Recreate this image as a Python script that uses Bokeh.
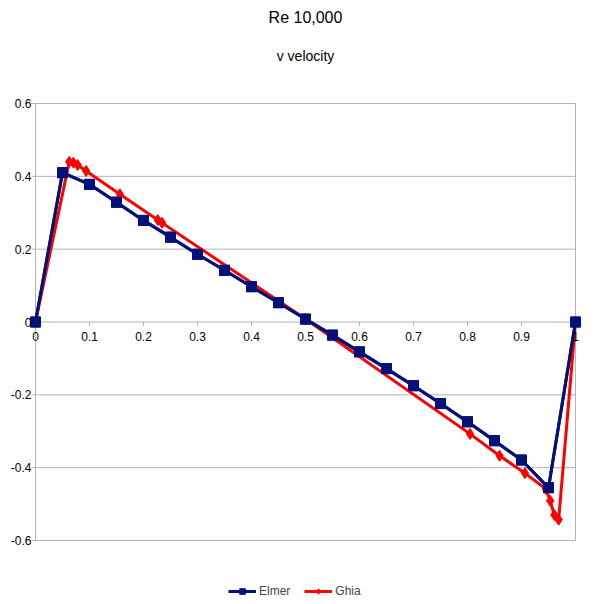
from bokeh.plotting import figure
from bokeh.models import Range1d, Legend, LegendItem, FixedTicker, Title, Label
from bokeh.embed import file_html
from bokeh.resources import INLINE

# Elmer results
elmer_x = [0.0, 0.05, 0.1, 0.15, 0.2, 0.25, 0.3, 0.35, 0.4, 0.45, 0.5,
           0.55, 0.6, 0.65, 0.7, 0.75, 0.8, 0.85, 0.9, 0.95, 1.0]
elmer_v = [0.0, 0.41, 0.378, 0.329, 0.279, 0.233, 0.186, 0.142, 0.097, 0.053, 0.008,
           -0.036, -0.082, -0.128, -0.175, -0.224, -0.274, -0.326, -0.379, -0.455, 0.0]

# Ghia et al. reference
ghia_x = [1.0, 0.9688, 0.9609, 0.9531, 0.9453, 0.9063, 0.8594, 0.8047, 0.5,
          0.2344, 0.2266, 0.1563, 0.0938, 0.0781, 0.0703, 0.0625, 0.0]
ghia_v = [0.0, -0.543, -0.5299, -0.491, -0.4586, -0.415, -0.3674, -0.3072, 0.0083,
          0.2722, 0.28, 0.3507, 0.4149, 0.4312, 0.4373, 0.4398, 0.0]

x_ticks = [0, 0.1, 0.2, 0.3, 0.4, 0.5, 0.6, 0.7, 0.8, 0.9, 1]
x_labels = ["0", "0.1", "0.2", "0.3", "0.4", "0.5", "0.6", "0.7", "0.8", "0.9", "1"]
y_ticks = [-0.6, -0.4, -0.2, 0, 0.2, 0.4, 0.6]
y_labels = ["-0.6", "-0.4", "-0.2", "0", "0.2", "0.4", "0.6"]

FONT = "Liberation Sans"
GRID = "#b3b3b3"
NAVY = "#00127a"
RED = "#ff0000"

PXX = 540.0     # pixels per x unit
PXY = 364.2     # pixels per y unit
XPAD = 6 / PXX
TOP_EXTRA = 25 / PXY
BOTTOM_EXTRA = 61 / PXY
TICK_X = 4 / PXX
TICK_Y = 4 / PXY

ymin, ymax = y_ticks[0], y_ticks[-1]

p = figure(frame_width=552, frame_height=523, output_backend="svg", toolbar_location=None,
           x_range=Range1d(-XPAD, 1 + XPAD),
           y_range=Range1d(ymin - BOTTOM_EXTRA, ymax + TOP_EXTRA),
           x_axis_location=None,
           min_border_left=29, min_border_right=1, min_border_top=0, min_border_bottom=0)

p.title = None
p.add_layout(Title(text="v velocity", align="center", text_font=FONT,
                   text_font_size="14px", text_font_style="normal",
                   text_color="#000000", standoff=29), "above")
p.add_layout(Title(text="Re 10,000", align="center", text_font=FONT,
                   text_font_size="16px", text_font_style="normal",
                   text_color="#000000", standoff=12), "above")

p.outline_line_color = None
p.xgrid.visible = False
p.ygrid.visible = False

ya = p.yaxis[0]
ya.ticker = FixedTicker(ticks=y_ticks)
ya.major_label_overrides = dict(zip(y_ticks, y_labels))
ya.axis_line_color = None
ya.major_tick_line_color = None
ya.major_tick_in = 0
ya.major_tick_out = 0
ya.minor_tick_line_color = None
ya.major_label_text_font = FONT
ya.major_label_text_color = "#000000"
ya.major_label_text_font_size = "12px"
ya.major_label_standoff = -2

n_y = len(y_ticks)
n_x = len(x_ticks)
# horizontal grid lines (plot area spans x = 0 .. 1)
p.segment(x0=[0] * n_y, y0=y_ticks, x1=[1] * n_y, y1=y_ticks, line_color=GRID, line_width=1)
# y ticks outward to the left
p.segment(x0=[-TICK_X] * n_y, y0=y_ticks, x1=[0] * n_y, y1=y_ticks, line_color=GRID, line_width=1)
# vertical axis line at x = 0 and right border at x = 1
p.segment(x0=[0, 1], y0=[ymin, ymin], x1=[0, 1], y1=[ymax, ymax], line_color=GRID, line_width=1)
# x ticks below the zero line
p.segment(x0=x_ticks, y0=[0] * n_x, x1=x_ticks, y1=[-TICK_Y] * n_x, line_color=GRID, line_width=1)
for t, lbl in zip(x_ticks, x_labels):
    p.add_layout(Label(x=t, y=0, text=lbl, y_offset=-10, text_align="center",
                       text_baseline="top", text_font=FONT, text_font_size="12px",
                       text_color="#000000"))

r_elmer_l = p.line(elmer_x, elmer_v, line_color=NAVY, line_width=3)
r_elmer_m = p.scatter(elmer_x, elmer_v, marker="square", size=10,
                      fill_color=NAVY, line_color=NAVY)
r_ghia_l = p.line(ghia_x, ghia_v, line_color=RED, line_width=3)
r_ghia_m = p.scatter(ghia_x, ghia_v, marker="diamond", size=11,
                     fill_color=RED, line_color=RED)
# draw Elmer on top like reference
p.line(elmer_x, elmer_v, line_color=NAVY, line_width=3)
p.scatter(elmer_x, elmer_v, marker="square", size=10, fill_color=NAVY, line_color=NAVY)

legend = Legend(items=[LegendItem(label="Elmer", renderers=[r_elmer_l, r_elmer_m]),
                       LegendItem(label="Ghia", renderers=[r_ghia_l, r_ghia_m])],
                orientation="horizontal", location=(199, 3),
                label_text_font=FONT, label_text_font_size="12px",
                border_line_color=None, background_fill_alpha=0,
                glyph_width=28, glyph_height=14, label_height=14,
                spacing=14, label_standoff=3, padding=2, margin=0)
p.add_layout(legend)

open("out.html", "w").write(file_html(p, INLINE))
